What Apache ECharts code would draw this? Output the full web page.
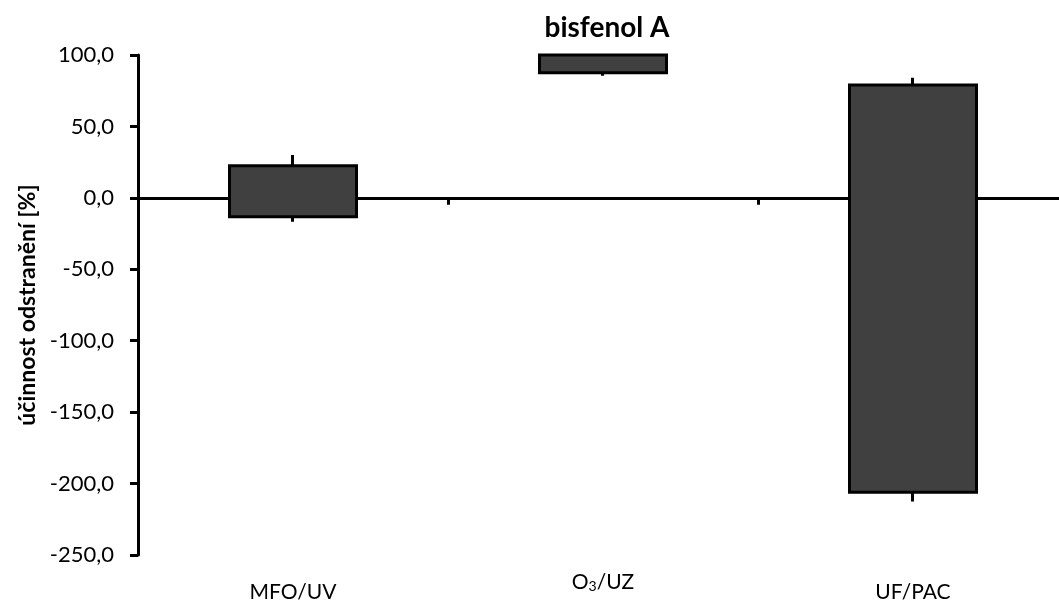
<!DOCTYPE html>
<html>
<head>
<meta charset="utf-8">
<script src="https://cdn.jsdelivr.net/npm/echarts@6/dist/echarts.min.js"></script>
<style>
  html, body { margin: 0; padding: 0; background: #fff; }
  #chart { width: 1059px; height: 601px; }
</style>
</head>
<body>
<div id="chart"></div>
<script>
// Treatment methods
const categories = ['MFO/UV', 'O3/UZ', 'UF/PAC'];
// Box range (lower / upper bounds) and whisker extremes, %
const boxLow  = [-13.3, 87.5, -206.0];
const boxHigh = [22.4, 100.0, 79.0];
const whiskerLow  = [-16.8, 85.5, -212.5];
const whiskerHigh = [30.0, 100.0, 84.0];
// Value axis ticks
const yTicks = [-250, -200, -150, -100, -50, 0, 50, 100];

const FONT = 'Lato, "Open Sans", "DejaVu Sans", sans-serif';

const seriesData = categories.map((c, i) => [boxLow[i], boxHigh[i], whiskerLow[i], whiskerHigh[i]]);

// category label: "O3" gets a subscript 3 and sits a little higher
function categoryLabel(v) {
  if (v === 'O3/UZ') return '{o|O}{sub|3}{o|/UZ}';
  return '{n|' + v + '}';
}

const chart = echarts.init(document.getElementById('chart'), null, { renderer: 'canvas' });
chart.setOption({
  animation: false,
  backgroundColor: '#ffffff',
  title: {
    text: 'bisfenol A',
    left: 602,
    top: 9,
    textAlign: 'center',
    textStyle: { fontFamily: FONT, fontSize: 28, fontWeight: 'bold', color: '#000' }
  },
  // plot area runs past the right edge of the canvas
  grid: { left: 138, top: 55, height: 500, width: 930, containLabel: false, outerBoundsMode: 'none' },
  xAxis: [
    {
      type: 'category',
      data: categories,
      position: 'bottom',
      axisLine: { show: false, onZero: false },
      axisTick: { show: false },
      axisLabel: {
        margin: 17,
        fontFamily: FONT,
        fontSize: 21,
        color: '#000',
        formatter: categoryLabel,
        rich: {
          n: { fontFamily: FONT, fontSize: 21, color: '#000', lineHeight: 41 },
          o: { fontFamily: FONT, fontSize: 21, color: '#000', lineHeight: 21 },
          sub: { fontFamily: FONT, fontSize: 14, color: '#000', lineHeight: 13, padding: [8, 0, 0, 0] }
        }
      }
    },
    {
      type: 'category',
      data: categories,
      position: 'bottom',
      axisLine: { show: true, onZero: true, lineStyle: { color: '#000', width: 3 } },
      axisTick: { show: true, inside: false, length: 7, lineStyle: { color: '#000', width: 3 } },
      axisLabel: { show: false }
    }
  ],
  yAxis: {
    type: 'value',
    min: yTicks[0],
    max: yTicks[yTicks.length - 1],
    interval: 50,
    name: 'účinnost odstranění [%]',
    nameLocation: 'middle',
    nameGap: 99,
    nameRotate: 90,
    nameTextStyle: { fontFamily: FONT, fontSize: 23, fontWeight: 'bold', color: '#000' },
    axisLine: { show: true, onZero: false, lineStyle: { color: '#000', width: 3 } },
    axisTick: { show: true, inside: false, length: 8, lineStyle: { color: '#000', width: 3 } },
    splitLine: { show: false },
    axisLabel: {
      margin: 24,
      fontFamily: FONT,
      fontSize: 22,
      color: '#000',
      formatter: v => v.toFixed(1).replace('.', ',')
    }
  },
  series: [{
    type: 'candlestick',
    xAxisIndex: 0,
    yAxisIndex: 0,
    data: seriesData,
    barWidth: 127,
    clip: true,
    itemStyle: {
      color: '#404040',
      color0: '#404040',
      borderColor: '#000',
      borderColor0: '#000',
      borderWidth: 3
    }
  }]
});
</script>
</body>
</html>
